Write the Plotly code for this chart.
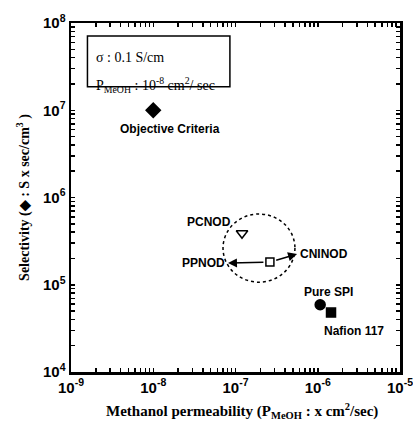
import numpy as np
import plotly.graph_objects as go

# ---- data ----
labels = ["Objective Criteria", "PCNOD", "Center", "Pure SPI", "Nafion 117"]
perm = [1.0e-8, 1.2e-7, 2.62e-7, 1.07e-6, 1.45e-6]    # P_MeOH, cm2/sec
sel = [1.0e7, 3.9e5, 1.82e5, 5.9e4, 4.8e4]            # selectivity
symbols = ["diamond", "triangle-down-open", "square-open", "circle", "square"]
sizes = [11, 10, 8, 10, 9]

arrow_names = ["PPNOD", "CNINOD"]
arrow_perm = [8.1e-8, 5.6e-7]
arrow_sel = [1.77e5, 2.25e5]

circle_perm = [7.05e-8, 5.28e-7]
circle_sel = [1.07e5, 6.47e5]

xexp = [-9, -8, -7, -6, -5]
yexp = [4, 5, 6, 7, 8]


def log_ticks(exps):
    vals, text = [], []
    for e in exps:
        vals.append(10.0 ** e)
        text.append("<b>10<sup>%d</sup></b>" % e)
        if e != exps[-1]:
            for m in range(2, 10):
                vals.append(m * 10.0 ** e)
                text.append("")
    return vals, text


xtickvals, xticktext = log_ticks(xexp)
ytickvals, yticktext = log_ticks(yexp)

sans = "Liberation Sans, Arial, sans-serif"
serif = "Liberation Serif, Times New Roman, serif"

fig = go.Figure()
fig.add_trace(go.Scatter(
    x=perm, y=sel, mode="markers", opacity=1,
    marker=dict(symbol=symbols, size=sizes, color="black", opacity=1,
                line=dict(color="black", width=1.5)),
    showlegend=False, hoverinfo="skip"))

# arrows from the centre point
cx, cy = np.log10(perm[2]), np.log10(sel[2])
for nm, px, py in zip(arrow_names, arrow_perm, arrow_sel):
    fig.add_annotation(x=np.log10(px), y=np.log10(py), ax=cx, ay=cy,
                       xref="x", yref="y", axref="x", ayref="y",
                       showarrow=True, arrowhead=2, arrowsize=1.2, arrowwidth=1.5,
                       arrowcolor="black", text="", standoff=0, startstandoff=5)


# point labels
def lab(text, x, y, xs=0, ys=0, xa="center"):
    fig.add_annotation(x=np.log10(x), y=np.log10(y), text=text, showarrow=False,
                       xshift=xs, yshift=ys, xanchor=xa,
                       font=dict(family=sans, size=12, color="black"))


lab("<b>Objective Criteria</b>", perm[0], sel[0], xs=17, ys=-19)
lab("<b>PCNOD</b>", perm[1], sel[1], xs=-9, ys=11, xa="right")
lab("<b>PPNOD</b>", arrow_perm[0], arrow_sel[0], xs=-1, ys=0, xa="right")
lab("<b>CNINOD</b>", arrow_perm[1], arrow_sel[1], xs=1, ys=0, xa="left")
lab("<b>Pure SPI</b>", perm[3], sel[3], xs=8, ys=13)
lab("<b>Nafion 117</b>", perm[4], sel[4], xs=23, ys=-18)

# dotted circle
fig.add_shape(type="circle", xref="x", yref="y",
              x0=circle_perm[0], x1=circle_perm[1], y0=circle_sel[0], y1=circle_sel[1],
              line=dict(color="black", width=1.5, dash="dot"))

# info box
fig.add_shape(type="rect", xref="paper", yref="paper",
              x0=0.05, x1=0.483, y0=0.817, y1=0.963,
              line=dict(color="black", width=1.5), fillcolor="white", layer="below")
fig.add_annotation(xref="paper", yref="paper", x=0.07, y=0.928, xanchor="left",
                   text="σ : 0.1 S/cm", showarrow=False,
                   font=dict(family=serif, size=14, color="black"))
fig.add_annotation(xref="paper", yref="paper", x=0.07, y=0.857, xanchor="left",
                   text="P<sub>MeOH</sub> : 10<sup>-8</sup> cm<sup>2</sup>/ sec", showarrow=False,
                   font=dict(family=serif, size=14, color="black"))

# x axis title (slightly right of centre, as in the original)
fig.add_annotation(xref="paper", yref="paper", x=0.52, y=0, yanchor="top", yshift=-27,
                   text="<b>Methanol permeability (P<sub>MeOH</sub> : x cm<sup>2</sup>/sec)</b>",
                   showarrow=False, font=dict(family=serif, size=15, color="black"))

axis_common = dict(
    type="log", showgrid=False, zeroline=False, automargin=False,
    showline=True, linecolor="black", linewidth=2.5, mirror="ticks",
    ticks="inside", ticklen=4, tickwidth=1.5, tickcolor="black",
    tickfont=dict(family=sans, size=15, color="black"),
    ticklabeloverflow="allow",
)

fig.update_layout(
    width=413, height=426,
    margin=dict(l=71, r=13, t=23, b=54),
    paper_bgcolor="white", plot_bgcolor="white",
    hovermode=False,
    xaxis=dict(axis_common, range=[-9, -5], tickmode="array", tickvals=xtickvals, ticktext=xticktext),
    yaxis=dict(axis_common, range=[4, 8], tickmode="array", tickvals=ytickvals, ticktext=yticktext,
               title=dict(text="<b>Selectivity (◆ : S x sec/cm<sup>3</sup> )</b>",
                          font=dict(family=serif, size=14, color="black"), standoff=10)),
)

fig.write_html("out.html",
               config={"displayModeBar": False, "staticPlot": True},
               post_script="document.documentElement.style.overflow='hidden';"
                           "document.body.style.margin='0';"
                           "document.body.style.overflow='hidden';")
